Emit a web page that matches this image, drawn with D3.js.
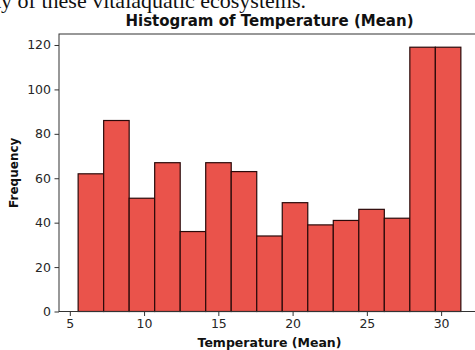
<!DOCTYPE html>
<html>
<head>
<meta charset="utf-8">
<script src="https://cdn.jsdelivr.net/npm/d3@7"></script>
<style>
  html, body { margin: 0; padding: 0; background: #fff; }
  svg { display: block; }
</style>
</head>
<body>
<svg id="chart" width="475" height="350"></svg>
<script>
// Histogram bins of mean temperature: edges and counts
const binStart = 5.56;
const binWidth = 1.718;
const counts = [62, 86, 51, 67, 36, 67, 63, 34, 49, 39, 41, 46, 42, 119, 119];
const xTicks = [5, 10, 15, 20, 25, 30];
const yTicks = [0, 20, 40, 60, 80, 100, 120];

const bins = counts.map((c, i) => ({
  x0: binStart + i * binWidth,
  x1: binStart + (i + 1) * binWidth,
  count: c
}));

const svg = d3.select("#chart");

// Plot area in pixels
const plotLeft = 59, plotTop = 34, plotRight = 480, plotBottom = 311.5;

const dataMin = bins[0].x0, dataMax = bins[bins.length - 1].x1;
const pad = (dataMax - dataMin) * 0.05;
const x = d3.scaleLinear().domain([dataMin - pad, dataMax + pad]).range([plotLeft, plotRight]);
const yMax = d3.max(counts) * 1.05;
const y = d3.scaleLinear().domain([0, yMax]).range([plotBottom, plotTop]);

// Running body text above the figure
svg.append("text")
  .attr("x", -5)
  .attr("y", 8)
  .attr("font-family", "Liberation Serif, Times New Roman, serif")
  .attr("font-size", 22)
  .attr("fill", "#111")
  .text("ty of these vitalaquatic ecosystems.");

// Bars
svg.append("g").selectAll("rect")
  .data(bins)
  .join("rect")
  .attr("x", d => x(d.x0))
  .attr("y", d => y(d.count))
  .attr("width", d => x(d.x1) - x(d.x0))
  .attr("height", d => y(0) - y(d.count))
  .attr("fill", "#ea534b")
  .attr("stroke", "#2a0a0a")
  .attr("stroke-width", 1.2);

// Axes
const xAxis = svg.append("g")
  .attr("transform", `translate(0,${plotBottom})`)
  .call(d3.axisBottom(x).tickValues(xTicks).tickSize(4.5).tickPadding(3.5).tickSizeOuter(0));
const yAxis = svg.append("g")
  .attr("transform", `translate(${plotLeft},0)`)
  .call(d3.axisLeft(y).tickValues(yTicks).tickSize(4.5).tickPadding(3.5).tickSizeOuter(0));

[xAxis, yAxis].forEach(g => {
  g.select(".domain").remove();
  g.selectAll(".tick line").attr("stroke", "#333").attr("stroke-width", 1);
  g.selectAll(".tick text")
    .attr("font-family", "DejaVu Sans, sans-serif")
    .attr("font-size", 12.5)
    .attr("fill", "#262626");
});

// Frame (spines)
svg.append("rect")
  .attr("x", plotLeft)
  .attr("y", plotTop)
  .attr("width", plotRight - plotLeft)
  .attr("height", plotBottom - plotTop)
  .attr("fill", "none")
  .attr("stroke", "#333")
  .attr("stroke-width", 1);

// Title and axis labels
svg.append("text")
  .attr("x", (plotLeft + plotRight) / 2)
  .attr("y", 26)
  .attr("text-anchor", "middle")
  .attr("font-family", "DejaVu Sans, sans-serif")
  .attr("font-weight", "bold")
  .attr("font-size", 15)
  .attr("fill", "#111")
  .text("Histogram of Temperature (Mean)");

svg.append("text")
  .attr("x", (plotLeft + plotRight) / 2)
  .attr("y", 347)
  .attr("text-anchor", "middle")
  .attr("font-family", "DejaVu Sans, sans-serif")
  .attr("font-weight", "bold")
  .attr("font-size", 12.5)
  .attr("fill", "#111")
  .text("Temperature (Mean)");

svg.append("text")
  .attr("transform", `translate(18,${(plotTop + plotBottom) / 2}) rotate(-90)`)
  .attr("text-anchor", "middle")
  .attr("font-family", "DejaVu Sans, sans-serif")
  .attr("font-weight", "bold")
  .attr("font-size", 12)
  .attr("fill", "#111")
  .text("Frequency");
</script>
</body>
</html>
